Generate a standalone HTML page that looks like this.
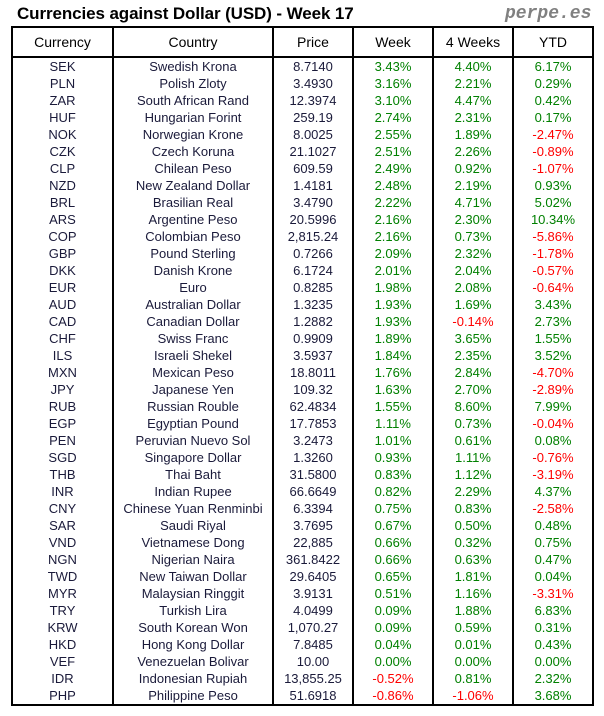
<!DOCTYPE html>
<html><head><meta charset="utf-8"><style>
body{margin:0;width:604px;height:716px;background:#fff;font-family:"Liberation Sans",sans-serif;position:relative;overflow:hidden}
.t{position:absolute;left:17px;top:4px;font-size:17px;font-weight:bold;color:#000;letter-spacing:-0.1px}
.p{position:absolute;left:505px;top:4px;font-size:18px;font-weight:bold;font-style:italic;color:#808080;font-family:"Liberation Mono",monospace}
table{position:absolute;left:11px;top:26px;border-collapse:collapse;table-layout:fixed}
td,th{border-left:2px solid #000;border-right:2px solid #000;padding:0;text-align:center;font-size:13px;height:17px;line-height:17px;white-space:nowrap;color:#1a1a3a;font-weight:normal}
th{height:28px;line-height:28px;border:2px solid #000;font-size:14px;color:#000}
tr:last-child td{border-bottom:2px solid #000}
.g{color:#008000}.r{color:#ff0000}
</style></head><body>
<div class="t">Currencies against Dollar (USD) - Week 17</div>
<div class="p">perpe.es</div>
<table>
<colgroup><col style="width:101px"><col style="width:160px"><col style="width:80px"><col style="width:80px"><col style="width:80px"><col style="width:80px"></colgroup>
<tr><th>Currency</th><th>Country</th><th>Price</th><th>Week</th><th>4 Weeks</th><th>YTD</th></tr>
<tbody id="b"></tbody>
</table>
<script>
var d=[["SEK","Swedish Krona","8.7140","3.43%","4.40%","6.17%"],
["PLN","Polish Zloty","3.4930","3.16%","2.21%","0.29%"],
["ZAR","South African Rand","12.3974","3.10%","4.47%","0.42%"],
["HUF","Hungarian Forint","259.19","2.74%","2.31%","0.17%"],
["NOK","Norwegian Krone","8.0025","2.55%","1.89%","-2.47%"],
["CZK","Czech Koruna","21.1027","2.51%","2.26%","-0.89%"],
["CLP","Chilean Peso","609.59","2.49%","0.92%","-1.07%"],
["NZD","New Zealand Dollar","1.4181","2.48%","2.19%","0.93%"],
["BRL","Brasilian Real","3.4790","2.22%","4.71%","5.02%"],
["ARS","Argentine Peso","20.5996","2.16%","2.30%","10.34%"],
["COP","Colombian Peso","2,815.24","2.16%","0.73%","-5.86%"],
["GBP","Pound Sterling","0.7266","2.09%","2.32%","-1.78%"],
["DKK","Danish Krone","6.1724","2.01%","2.04%","-0.57%"],
["EUR","Euro","0.8285","1.98%","2.08%","-0.64%"],
["AUD","Australian Dollar","1.3235","1.93%","1.69%","3.43%"],
["CAD","Canadian Dollar","1.2882","1.93%","-0.14%","2.73%"],
["CHF","Swiss Franc","0.9909","1.89%","3.65%","1.55%"],
["ILS","Israeli Shekel","3.5937","1.84%","2.35%","3.52%"],
["MXN","Mexican Peso","18.8011","1.76%","2.84%","-4.70%"],
["JPY","Japanese Yen","109.32","1.63%","2.70%","-2.89%"],
["RUB","Russian Rouble","62.4834","1.55%","8.60%","7.99%"],
["EGP","Egyptian Pound","17.7853","1.11%","0.73%","-0.04%"],
["PEN","Peruvian Nuevo Sol","3.2473","1.01%","0.61%","0.08%"],
["SGD","Singapore Dollar","1.3260","0.93%","1.11%","-0.76%"],
["THB","Thai Baht","31.5800","0.83%","1.12%","-3.19%"],
["INR","Indian Rupee","66.6649","0.82%","2.29%","4.37%"],
["CNY","Chinese Yuan Renminbi","6.3394","0.75%","0.83%","-2.58%"],
["SAR","Saudi Riyal","3.7695","0.67%","0.50%","0.48%"],
["VND","Vietnamese Dong","22,885","0.66%","0.32%","0.75%"],
["NGN","Nigerian Naira","361.8422","0.66%","0.63%","0.47%"],
["TWD","New Taiwan Dollar","29.6405","0.65%","1.81%","0.04%"],
["MYR","Malaysian Ringgit","3.9131","0.51%","1.16%","-3.31%"],
["TRY","Turkish Lira","4.0499","0.09%","1.88%","6.83%"],
["KRW","South Korean Won","1,070.27","0.09%","0.59%","0.31%"],
["HKD","Hong Kong Dollar","7.8485","0.04%","0.01%","0.43%"],
["VEF","Venezuelan Bolivar","10.00","0.00%","0.00%","0.00%"],
["IDR","Indonesian Rupiah","13,855.25","-0.52%","0.81%","2.32%"],
["PHP","Philippine Peso","51.6918","-0.86%","-1.06%","3.68%"]];
var h="";d.forEach(function(r){h+="<tr>";r.forEach(function(c,i){var cl=i>2?(c[0]=="-"?"r":"g"):"";h+='<td class="'+cl+'">'+c+"</td>";});h+="</tr>";});
document.getElementById("b").innerHTML=h;
</script>
</body></html>
